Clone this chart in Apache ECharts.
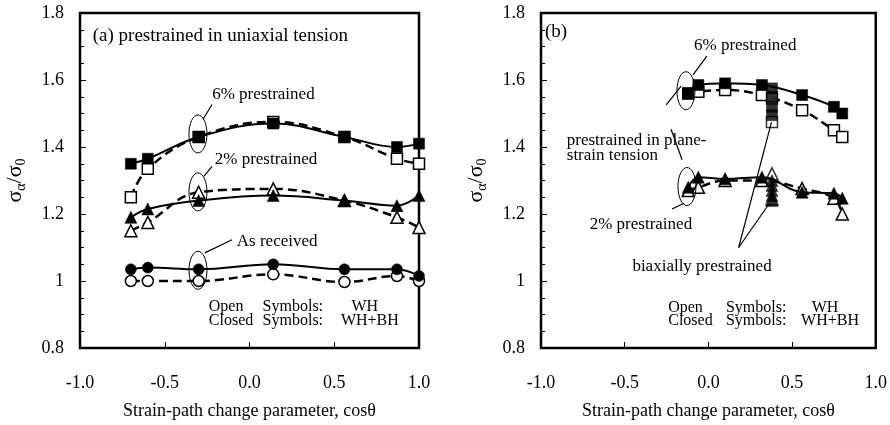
<!DOCTYPE html>
<head>
    <meta charset="utf-8">
    <title>Strain-path change</title>
    <script src="https://cdn.jsdelivr.net/npm/echarts@6/dist/echarts.min.js"></script>
</head>
<body style="margin:0;background:#fff">
<div id="main" style="width:890px;height:425px"></div>
<script type="text/javascript">
    // panel (a): prestrained in uniaxial tension
    var xA = [-0.7, -0.6, -0.3, 0.14, 0.56, 0.87, 1.0];
    var a6Closed = [1.35, 1.365, 1.43, 1.47, 1.43, 1.40, 1.41];
    var a6Open = [1.25, 1.335, 1.43, 1.475, 1.43, 1.365, 1.35];
    var a2Closed = [1.19, 1.215, 1.24, 1.255, 1.24, 1.225, 1.255];
    var a2Open = [1.15, 1.175, 1.265, 1.275, 1.24, 1.19, 1.16];
    var a0Closed = [1.035, 1.04, 1.035, 1.05, 1.035, 1.035, 1.015];
    var a0Open = [1.0, 1.0, 1.0, 1.02, 0.997, 1.015, 1.0];

    // panel (b): prestrained in plane-strain tension
    var xB = [-0.12, -0.06, 0.10, 0.32, 0.56, 0.75, 0.80];
    var b6Closed = [1.56, 1.585, 1.59, 1.585, 1.555, 1.52, 1.50];
    var b6Open = [1.56, 1.565, 1.57, 1.555, 1.51, 1.45, 1.43];
    var b2Closed = [1.28, 1.31, 1.305, 1.31, 1.265, 1.262, 1.247];
    var b2Open = [1.27, 1.28, 1.30, 1.30, 1.276, 1.247, 1.20];

    // panel (b): biaxially prestrained points
    var xBi = 0.38;
    var biSqClosed = [1.575, 1.55, 1.52, 1.495];
    var biSqOpen = [1.545, 1.475];
    var biTriClosed = [1.30, 1.285, 1.27, 1.255, 1.24];
    var biTriOpen = [1.32, 1.245];

    var xTicks = [-1.0, -0.5, 0.0, 0.5, 1.0];
    var yTicks = [0.8, 1, 1.2, 1.4, 1.6, 1.8];

    var FONT = "'Liberation Serif', 'Times New Roman', serif";

    var myChart = echarts.init(document.getElementById('main'));

    function pairs(xs, ys) {
        return ys.map(function (y, i) { return [Array.isArray(xs) ? xs[i] : xs, y]; });
    }

    function symStyle(open) {
        return open ? {color: '#fff', borderColor: '#000', borderWidth: 1.5}
                    : {color: '#000', borderColor: '#000', borderWidth: 0.5};
    }

    function sizeOf(sym) {
        return sym == 'rect' ? 11 : (sym == 'triangle' ? 12 : 11);
    }

    function curve(gi, xs, ys, sym, open) {
        return {
            type: 'line', xAxisIndex: gi, yAxisIndex: gi,
            data: pairs(xs, ys),
            smooth: 0.4,
            symbol: sym, symbolSize: sizeOf(sym), showSymbol: true,
            lineStyle: {color: '#000', width: open ? 2.5 : 2, type: open ? [9, 5] : 'solid'},
            itemStyle: symStyle(open),
            z: open ? 2 : 3,
            silent: true
        };
    }

    function dots(gi, xs, ys, sym, open) {
        return {
            type: 'scatter', xAxisIndex: gi, yAxisIndex: gi,
            data: pairs(xs, ys),
            symbol: sym, symbolSize: sizeOf(sym),
            itemStyle: symStyle(open),
            z: open ? 2 : 3,
            silent: true
        };
    }

    function xAxisOf(gi) {
        return {
            type: 'value', gridIndex: gi, min: -1, max: 1, interval: 0.5,
            axisLine: {show: false, onZero: false},
            axisTick: {show: true, inside: true, length: 6, lineStyle: {color: '#000', width: 1}},
            splitLine: {show: false},
            axisLabel: {
                color: '#000', fontFamily: FONT, fontSize: 18, margin: 26,
                formatter: function (v) { return v.toFixed(1); }
            },
            name: 'Strain-path change parameter, cos\u03b8',
            nameLocation: 'middle', nameGap: 54,
            nameTextStyle: {color: '#000', fontFamily: FONT, fontSize: 18}
        };
    }

    function yAxisOf(gi) {
        return {
            type: 'value', gridIndex: gi, min: 0.8, max: 1.8, interval: 0.2,
            axisLine: {show: false, onZero: false},
            axisTick: {show: true, inside: true, length: 6, lineStyle: {color: '#000', width: 1}},
            minorTick: {show: true, splitNumber: 4, length: 4, lineStyle: {color: '#000', width: 1}},
            splitLine: {show: false},
            axisLabel: {
                color: '#000', fontFamily: FONT, fontSize: 18, margin: 16,
                formatter: function (v) { return String(Math.round(v * 10) / 10); }
            },
            name: '{s|\u03c3}{b|\u03b1}{s|/\u03c3}{b|0}',
            nameLocation: 'middle', nameRotate: 90, nameGap: 52,
            nameTextStyle: {
                color: '#000', fontFamily: FONT,
                rich: {
                    s: {fontSize: 22, fontFamily: FONT, color: '#000', lineHeight: 26, verticalAlign: 'middle'},
                    b: {fontSize: 14, fontFamily: FONT, color: '#000', lineHeight: 26, verticalAlign: 'bottom'}
                }
            }
        };
    }

    var option = {
        animation: false,
        backgroundColor: '#fff',
        grid: [
            {left: 80, top: 13, width: 339, height: 342, show: true, borderColor: '#000', borderWidth: 2.5, backgroundColor: 'transparent'},
            {left: 541, top: 13, width: 337, height: 341, show: true, borderColor: '#000', borderWidth: 2.5, backgroundColor: 'transparent'}
        ],
        xAxis: [xAxisOf(0), xAxisOf(1)],
        yAxis: [yAxisOf(0), yAxisOf(1)],
        series: [
            curve(0, xA, a6Open, 'rect', true),
            curve(0, xA, a2Open, 'triangle', true),
            curve(0, xA, a0Open, 'circle', true),
            curve(0, xA, a6Closed, 'rect', false),
            curve(0, xA, a2Closed, 'triangle', false),
            curve(0, xA, a0Closed, 'circle', false),

            curve(1, xB, b6Open, 'rect', true),
            curve(1, xB, b2Open, 'triangle', true),
            dots(1, xBi, biSqOpen, 'rect', true),
            dots(1, xBi, biTriOpen, 'triangle', true),
            curve(1, xB, b6Closed, 'rect', false),
            curve(1, xB, b2Closed, 'triangle', false),
            dots(1, xBi, biSqClosed, 'rect', false),
            dots(1, xBi, biTriClosed, 'triangle', false)
        ]
    };
    myChart.setOption(option);

    // annotations, anchored in data coordinates
    var textsA = [
        {t: '(a) prestrained in uniaxial tension', x: -0.925, y: 1.73, size: 19},
        {t: '6% prestrained', x: -0.22, y: 1.557},
        {t: '2% prestrained', x: -0.205, y: 1.363},
        {t: 'As received', x: -0.075, y: 1.117},
        {t: 'Open', x: -0.24, y: 0.923, size: 16},
        {t: 'Closed', x: -0.24, y: 0.882, size: 16},
        {t: 'Symbols:', x: 0.434, y: 0.923, align: 'right', size: 16},
        {t: 'Symbols:', x: 0.434, y: 0.882, align: 'right', size: 16},
        {t: 'WH', x: 0.68, y: 0.923, align: 'center', size: 16},
        {t: 'WH+BH', x: 0.71, y: 0.882, align: 'center', size: 16}
    ];
    var ellipsesA = [[-0.304, 1.439], [-0.304, 1.266], [-0.304, 1.032]];
    var leadersA = [
        [[-0.274, 1.483], [-0.221, 1.527]],
        [[-0.268, 1.313], [-0.221, 1.342]],
        [[-0.263, 1.084], [-0.103, 1.123]]
    ];

    var textsB = [
        {t: '(b)', x: -0.976, y: 1.744, size: 19},
        {t: '6% prestrained', x: -0.086, y: 1.703},
        {t: 'prestrained in plane-', x: -0.846, y: 1.42},
        {t: 'strain tension', x: -0.846, y: 1.376},
        {t: '2% prestrained', x: -0.709, y: 1.168},
        {t: 'biaxially prestrained', x: -0.454, y: 1.044},
        {t: 'Open', x: -0.24, y: 0.92, size: 16},
        {t: 'Closed', x: -0.24, y: 0.88, size: 16},
        {t: 'Symbols:', x: 0.466, y: 0.92, align: 'right', size: 16},
        {t: 'Symbols:', x: 0.466, y: 0.88, align: 'right', size: 16},
        {t: 'WH', x: 0.697, y: 0.92, align: 'center', size: 16},
        {t: 'WH+BH', x: 0.727, y: 0.88, align: 'center', size: 16}
    ];
    var ellipsesB = [[-0.134, 1.568], [-0.128, 1.282]];
    var leadersB = [
        [[-0.009, 1.671], [-0.092, 1.615]],
        [[-0.252, 1.526], [-0.163, 1.582]],
        [[-0.223, 1.453], [-0.157, 1.362]],
        [[-0.145, 1.232], [-0.217, 1.215]],
        [[0.181, 1.10], [0.377, 1.474]],
        [[0.181, 1.10], [0.365, 1.232]]
    ];

    function buildGraphics(gi, texts, ellipses, leaders) {
        var out = [];
        function px(p) { return myChart.convertToPixel({gridIndex: gi}, p); }
        texts.forEach(function (d) {
            var p = px([d.x, d.y]);
            out.push({
                type: 'text', x: p[0], y: p[1], z: 10,
                style: {text: d.t, fill: '#000', font: (d.size || 17) + 'px ' + FONT,
                        textAlign: d.align || 'left', textVerticalAlign: 'middle'}
            });
        });
        ellipses.forEach(function (e) {
            var p = px(e);
            out.push({
                type: 'ellipse', z: 10,
                shape: {cx: p[0], cy: p[1], rx: 9, ry: 19},
                style: {fill: 'none', stroke: '#000', lineWidth: 1}
            });
        });
        leaders.forEach(function (l) {
            var p1 = px(l[0]), p2 = px(l[1]);
            out.push({
                type: 'line', z: 10,
                shape: {x1: p1[0], y1: p1[1], x2: p2[0], y2: p2[1]},
                style: {stroke: '#000', lineWidth: 1.2}
            });
        });
        return out;
    }

    myChart.setOption({
        graphic: buildGraphics(0, textsA, ellipsesA, leadersA)
            .concat(buildGraphics(1, textsB, ellipsesB, leadersB))
    });
</script>
</body>
